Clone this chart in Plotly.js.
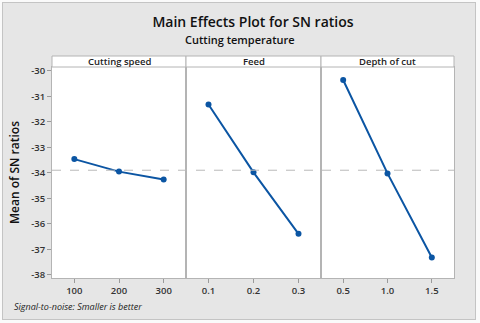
<!DOCTYPE html>
<html>
<head>
<meta charset="utf-8">
<script src="https://cdn.plot.ly/plotly-3.0.1.min.js"></script>
<style>
html,body{margin:0;padding:0;background:#fafafa;}
#frame{position:absolute;left:2px;top:2px;width:472px;height:316px;background:#e6e6e6;border:1px solid #c4c4c4;}
#chart{position:absolute;left:0;top:0;width:480px;height:323px;}
</style>
</head>
<body>
<div id="frame"></div>
<div id="chart"></div>
<script>
const factors = ["Cutting speed", "Feed", "Depth of cut"];
const speedLevels = ["100", "200", "300"];
const speedSN = [-33.46, -33.95, -34.26];
const feedLevels = ["0.1", "0.2", "0.3"];
const feedSN = [-31.32, -33.98, -36.39];
const depthLevels = ["0.5", "1.0", "1.5"];
const depthSN = [-30.36, -34.02, -37.32];
const yTicks = [-30, -31, -32, -33, -34, -35, -36, -37, -38];

const levels = [speedLevels, feedLevels, depthLevels];
const values = [speedSN, feedSN, depthSN];
const all = speedSN.concat(feedSN, depthSN);
const grandMean = all.reduce((a, b) => a + b, 0) / all.length;

const blue = "#0b55a3";
const font = "Open Sans, Noto Sans, sans-serif";
const traces = [];
const layout = {
  width: 480, height: 323,
  margin: {l: 52, r: 26, t: 67, b: 45},
  paper_bgcolor: "rgba(0,0,0,0)",
  plot_bgcolor: "#ffffff",
  showlegend: false,
  font: {family: font, color: "#222"},
  title: {
    text: "Main Effects Plot for SN ratios",
    x: 0.5, xref: "paper", xanchor: "center",
    y: 1 - 22.5 / 323, yref: "container", yanchor: "middle",
    font: {family: font, size: 14, color: "#111", weight: 600}
  },
  shapes: [],
  annotations: []
};

const bounds = [0, 134 / 402, 269 / 402, 1];
for (let i = 0; i < 3; i++) {
  const xa = i === 0 ? "x" : "x" + (i + 1);
  const ya = i === 0 ? "y" : "y" + (i + 1);
  traces.push({
    type: "scatter", mode: "lines+markers",
    x: levels[i], y: values[i],
    xaxis: xa, yaxis: ya,
    line: {color: blue, width: 2},
    marker: {color: blue, size: 6}
  });
  const xkey = i === 0 ? "xaxis" : "xaxis" + (i + 1);
  const ykey = i === 0 ? "yaxis" : "yaxis" + (i + 1);
  layout[xkey] = {
    domain: [bounds[i], bounds[i + 1]],
    anchor: ya, type: "category",
    range: [-0.5, 2.5],
    showgrid: false, zeroline: false,
    showline: true, linecolor: "#b4b4b4", linewidth: 1, mirror: true,
    ticks: "outside", ticklen: 4, tickcolor: "#9a9a9a",
    tickfont: {family: font, size: 9.5, color: "#333", weight: 600}
  };
  layout[ykey] = {
    domain: [0, 1], anchor: xa,
    range: [-38.12, -29.85],
    tickvals: yTicks, ticktext: yTicks.map(String),
    showgrid: false,
    zeroline: false,
    showline: true, linecolor: "#b4b4b4", linewidth: 1, mirror: true,
    ticks: i === 0 ? "outside" : "", ticklen: 4, tickcolor: "#9a9a9a",
    showticklabels: i === 0,
    tickfont: {family: font, size: 9.5, color: "#333", weight: 600}
  };
  if (i > 0) layout[ykey].matches = "y";
  layout.shapes.push({
    type: "rect", xref: "paper", yref: "paper",
    x0: bounds[i], x1: bounds[i + 1], y0: 1, y1: 1 + 11 / 211,
    fillcolor: "#ffffff", line: {color: "#b4b4b4", width: 1}
  });
  layout.annotations.push({
    text: factors[i], xref: "paper", yref: "paper",
    x: (bounds[i] + bounds[i + 1]) / 2, y: 1 + 5.5 / 211,
    xanchor: "center", yanchor: "middle", showarrow: false,
    font: {family: font, size: 9.5, color: "#222", weight: 600}
  });
}
layout.yaxis.title = {
  text: "Mean of SN ratios", standoff: 8,
  font: {family: font, size: 12, color: "#111", weight: 600}
};
layout.shapes.push({
  type: "line", xref: "paper", yref: "y",
  x0: 0, x1: 1, y0: grandMean, y1: grandMean,
  line: {color: "#b9b9b9", width: 1, dash: "dash"}
});
layout.annotations.push({
  text: "Cutting temperature", xref: "paper", yref: "paper",
  x: (240 - 52) / 402, y: 1 + (67 - 39.5) / 211,
  xanchor: "center", yanchor: "middle", showarrow: false,
  font: {family: font, size: 11, color: "#111", weight: 600}
});
layout.annotations.push({
  text: "<i>Signal-to-noise: Smaller is better</i>", xref: "paper", yref: "paper",
  x: (12 - 52) / 402, y: -(306 - 278) / 211,
  xanchor: "left", yanchor: "middle", showarrow: false,
  font: {family: font, size: 9, color: "#222"}
});

Plotly.newPlot("chart", traces, layout, {displayModeBar: false, staticPlot: true});
</script>
</body>
</html>
